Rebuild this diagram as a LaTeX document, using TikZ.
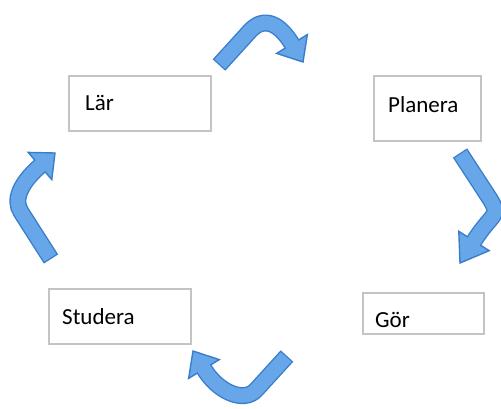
\documentclass[tikz,border=0pt]{standalone}
\usepackage{fontspec}
\setmainfont{Carlito}
\usetikzlibrary{calc}
\definecolor{boxgray}{HTML}{C4C4C4}
\definecolor{arrowedge}{HTML}{3A7DCB}
\definecolor{arrowfill}{HTML}{66A6E9}

% curved block arrow: #1 tail, #2 bend start, #3 first control, #4 head base, #5 tip
\newcommand{\cyclearrow}[5]{%
  \coordinate (s) at #1;
  \coordinate (p) at #2;
  \coordinate (c1) at #3;
  \coordinate (b) at #4;
  \coordinate (t) at #5;
  \coordinate (c2) at ($(b)!-1.3!(t)$);
  \draw[shaftedge] (s) -- (p) .. controls (c1) and (c2) .. (b);
  \draw[headshape] ($(b)!18pt!90:(t)$) -- (t) -- ($(b)!18pt!-90:(t)$) -- cycle;
  \draw[shaftfill] (s) -- (p) .. controls (c1) and (c2) .. (b) -- ($(b)!4pt!(t)$);
}

\begin{document}
\begin{tikzpicture}[x=1pt,y=-1pt,
  stagebox/.style={draw=boxgray, line width=1.6pt, fill=white, rectangle,
    inner sep=0pt, anchor=north west},
  stagelabel/.style={anchor=base west, inner sep=0pt,
    font=\fontsize{23}{27}\selectfont},
  shaftedge/.style={draw=arrowedge, line width=17pt},
  shaftfill/.style={draw=arrowfill, line width=14.2pt, shorten <=1.3pt},
  headshape/.style={fill=arrowfill, draw=arrowedge, line width=1.4pt,
    line join=miter}]

\useasboundingbox (0,0) rectangle (501,408);

% stage boxes
\node[stagebox, minimum width=142pt, minimum height=55pt] (lar) at (68,75) {};
\node[stagebox, minimum width=107pt, minimum height=65pt] (planera) at (373,75) {};
\node[stagebox, minimum width=121pt, minimum height=41pt] (gor) at (362,292) {};
\node[stagebox, minimum width=142pt, minimum height=55pt] (studera) at (48,288) {};

% stage names
\node[stagelabel] (larT) at (85,110) {Lär};
\node[stagelabel] (planeraT) at (388,112) {Planera};
\node[stagelabel] (gorT) at (375,327) {Gör};
\node[stagelabel] (studeraT) at (62,324) {Studera};

% Lär -> Planera
\cyclearrow{(219,65)}{(249,32)}{(262,17)}{(292,44)}{(303,62)}
% Planera -> Gör
\cyclearrow{(460,153)}{(490,199)}{(501,217)}{(474,241)}{(460,263)}
% Gör -> Studera
\cyclearrow{(287,356)}{(256,390)}{(244,403)}{(204,369)}{(193,351)}
% Studera -> Lär
\cyclearrow{(51,259)}{(21,212)}{(13,200)}{(40,166)}{(55,153)}

\end{tikzpicture}
\end{document}
